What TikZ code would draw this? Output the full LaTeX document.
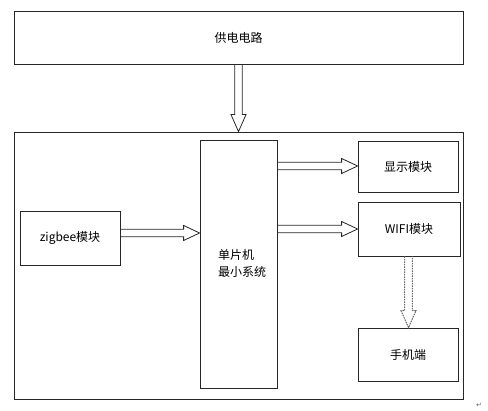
\documentclass[tikz,border=0pt]{standalone}
\usepackage{fontspec}
\setmainfont{Noto Sans CJK SC}
\newfontfamily\djv{DejaVu Sans}
\usetikzlibrary{calc}
\newcommand\fatH[3]{%
  \draw[#1] ($(#2)+(0,-3.8)$) -- ($(#3)+(-16,-3.8)$) -- ($(#3)+(-16,-7.5)$) -- (#3)
    -- ($(#3)+(-16,7.5)$) -- ($(#3)+(-16,3.8)$) -- ($(#2)+(0,3.8)$);}
\newcommand\fatV[3]{%
  \draw[#1] ($(#2)+(-3.8,0)$) -- ($(#3)+(-3.8,-17)$) -- ($(#3)+(-7.5,-17)$) -- (#3)
    -- ($(#3)+(7.5,-17)$) -- ($(#3)+(3.8,-17)$) -- ($(#2)+(3.8,0)$);}
\begin{document}
\begin{tikzpicture}[x=1pt,y=-1pt,
  box/.style={draw=black!85,line width=0.8pt,inner sep=0pt,font=\fontsize{12}{17}\selectfont},
  fat/.style={draw=black!85,line width=0.8pt,line join=miter},
  dfat/.style={draw=black!60,line width=1pt,dash pattern=on 1.6pt off 0.9pt,line join=miter},
  lbl/.style={font=\fontsize{12}{17}\selectfont,inner sep=0pt}]
\useasboundingbox (0,0) rectangle (488,411);
\node[box,minimum width=449,minimum height=53] (pwr) at (238.5,37.5) {供电电路};
\node[box,minimum width=449,minimum height=267] (outer) at (238.5,265.5) {};
\node[box,minimum width=77,minimum height=248] (mcu) at (238.5,264) {};
\node[lbl,align=left,anchor=west] (mcutxt) at (218,263) {单片机\\最小系统};
\node[box,minimum width=100,minimum height=54] (zig) at (70,238) {zigbee模块};
\node[box,minimum width=100,minimum height=51] (disp) at (408,166.5) {显示模块};
\node[box,minimum width=102,minimum height=54] (wifi) at (409,229) {WIFI模块};
\node[box,minimum width=100,minimum height=53] (phone) at (408,354.5) {手机端};
\node[font=\djv\fontsize{7}{7}\selectfont,text=black!60,inner sep=0pt] (pm) at (479,405) {↵};
% helper rows / columns
\coordinate (y166) at (0,166);
\coordinate (y229) at (0,229);
\coordinate (y233) at (0,233);
\coordinate (xw) at (408.5,0);
\coordinate (zA) at (zig.east |- y233);
\coordinate (zB) at (mcu.west |- y233);
\coordinate (dA) at (mcu.east |- y166);
\coordinate (dB) at (disp.west |- y166);
\coordinate (wA) at (mcu.east |- y229);
\coordinate (wB) at (wifi.west |- y229);
\coordinate (pA) at (xw |- wifi.south);
\coordinate (pB) at (xw |- phone.north);
\fatV{fat}{pwr.south}{outer.north}
\fatH{fat}{zA}{zB}
\fatH{fat}{dA}{dB}
\fatH{fat}{wA}{wB}
\fatV{dfat}{pA}{pB}
\end{tikzpicture}
\end{document}
